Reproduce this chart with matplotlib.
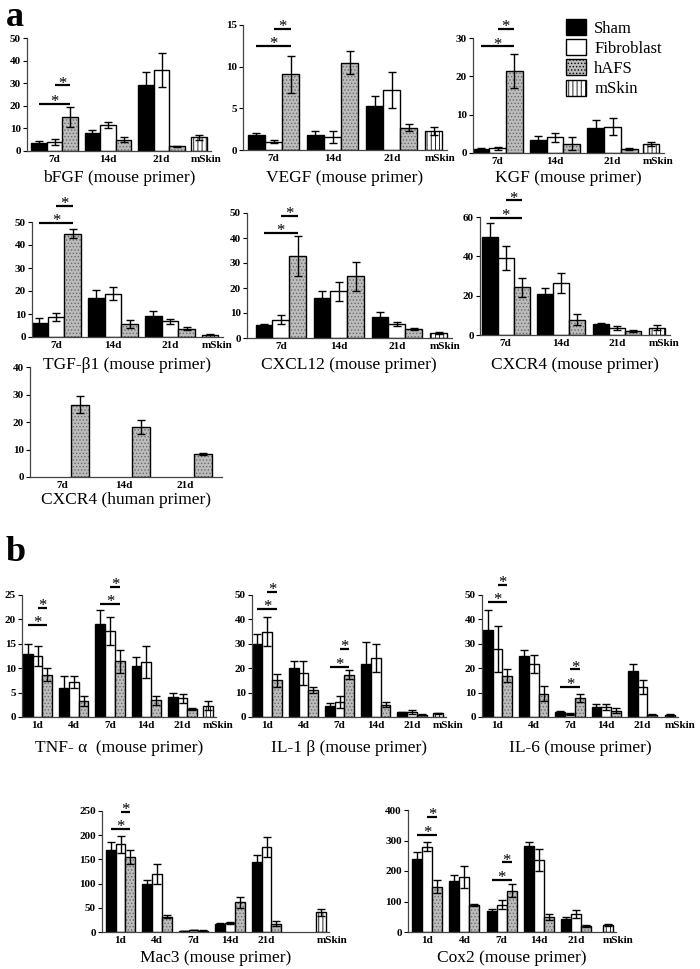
import matplotlib
matplotlib.use('Agg')
import matplotlib.pyplot as plt
import matplotlib.patches as mpatches
import numpy as np

plt.rcParams['font.family'] = ['Liberation Serif', 'DejaVu Serif']
plt.rcParams['hatch.linewidth'] = 0.6

days_a = ['7d', '14d', '21d']
days_b = ['1d', '4d', '7d', '14d', '21d']

# ---- panel a, mouse primer: Sham / Fibroblast / hAFS per day, then mSkin
bfgf_sham, bfgf_sham_e = [3.5, 8.0, 29.0], [1.0, 1.3, 6.0]
bfgf_fib, bfgf_fib_e = [4.0, 11.5, 36.0], [1.2, 1.5, 7.5]
bfgf_hafs, bfgf_hafs_e = [15.0, 5.0, 2.0], [4.5, 1.0, 0.3]
bfgf_mskin, bfgf_mskin_e = 6.0, 1.0

vegf_sham, vegf_sham_e = [1.8, 1.8, 5.3], [0.3, 0.5, 1.2]
vegf_fib, vegf_fib_e = [1.0, 1.6, 7.2], [0.15, 0.7, 2.1]
vegf_hafs, vegf_hafs_e = [9.1, 10.5, 2.7], [2.2, 1.4, 0.4]
vegf_mskin, vegf_mskin_e = 2.3, 0.5

kgf_sham, kgf_sham_e = [1.0, 3.5, 6.6], [0.2, 1.0, 2.1]
kgf_fib, kgf_fib_e = [1.2, 4.1, 6.9], [0.3, 1.1, 2.2]
kgf_hafs, kgf_hafs_e = [21.4, 2.4, 1.0], [4.4, 1.7, 0.2]
kgf_mskin, kgf_mskin_e = 2.3, 0.5

tgf_sham, tgf_sham_e = [6.2, 16.8, 9.2], [2.0, 3.8, 2.0]
tgf_fib, tgf_fib_e = [8.8, 18.9, 6.9], [1.8, 2.9, 1.1]
tgf_hafs, tgf_hafs_e = [45.0, 5.6, 3.6], [1.9, 1.6, 0.7]
tgf_mskin, tgf_mskin_e = 1.0, 0.3

cxcl12_sham, cxcl12_sham_e = [5.1, 16.0, 8.5], [0.5, 3.0, 1.8]
cxcl12_fib, cxcl12_fib_e = [7.3, 18.7, 5.6], [1.8, 3.9, 0.8]
cxcl12_hafs, cxcl12_hafs_e = [32.7, 24.7, 3.6], [8.0, 5.8, 0.3]
cxcl12_mskin, cxcl12_mskin_e = 2.0, 0.3

cxcr4_sham, cxcr4_sham_e = [49.8, 20.8, 5.7], [7.0, 2.9, 0.4]
cxcr4_fib, cxcr4_fib_e = [39.2, 26.5, 3.4], [6.1, 4.9, 1.1]
cxcr4_hafs, cxcr4_hafs_e = [24.2, 7.8, 2.0], [4.9, 2.7, 0.4]
cxcr4_mskin, cxcr4_mskin_e = 3.7, 1.2

# CXCR4 human primer: hAFS only
cxcr4h_hafs, cxcr4h_hafs_e = [26.3, 18.2, 8.5], [3.0, 2.5, 0.4]

# ---- panel b
tnf_sham, tnf_sham_e = [12.9, 6.0, 19.0, 10.5, 4.0], [2.0, 2.5, 2.9, 1.8, 1.0]
tnf_fib, tnf_fib_e = [12.5, 7.2, 17.6, 11.3, 3.8], [2.1, 1.2, 2.8, 3.3, 0.9]
tnf_hafs, tnf_hafs_e = [8.7, 3.3, 11.4, 3.4, 1.6], [1.4, 1.0, 2.4, 1.0, 0.2]
tnf_mskin, tnf_mskin_e = 2.3, 0.9

il1b_sham, il1b_sham_e = [30.1, 19.9, 4.7, 21.9, 1.9], [4.1, 3.0, 1.2, 8.8, 0.3]
il1b_fib, il1b_fib_e = [34.9, 18.1, 6.2, 24.2, 2.0], [5.9, 4.8, 2.4, 5.7, 0.8]
il1b_hafs, il1b_hafs_e = [15.1, 11.0, 17.3, 5.1, 1.0], [2.6, 1.1, 1.8, 1.0, 0.2]
il1b_mskin, il1b_mskin_e = 1.6, 0.2

il6_sham, il6_sham_e = [35.8, 24.8, 1.9, 4.0, 18.8], [8.1, 2.5, 0.7, 1.2, 2.9]
il6_fib, il6_fib_e = [27.9, 21.8, 1.2, 4.0, 12.3], [9.5, 3.7, 0.3, 1.2, 2.7]
il6_hafs, il6_hafs_e = [17.0, 9.5, 7.9, 2.5, 1.0], [2.5, 3.1, 1.7, 1.0, 0.2]
il6_mskin, il6_mskin_e = 1.0, 0.4

mac3_sham, mac3_sham_e = [170, 99, 2, 17, 145], [15, 9, 0.5, 1.5, 15]
mac3_fib, mac3_fib_e = [181, 120, 4, 18.5, 176], [18, 21, 0.5, 2, 21]
mac3_hafs, mac3_hafs_e = [155, 32, 3, 61, 17], [15, 3, 0.5, 11, 5]
mac3_mskin, mac3_mskin_e = 41, 7

cox2_sham, cox2_sham_e = [240, 167, 70, 282, 41], [22, 20, 7, 12, 9]
cox2_fib, cox2_fib_e = [280, 180, 89, 236, 59], [14, 35, 15, 36, 13]
cox2_hafs, cox2_hafs_e = [149, 88, 135, 49, 18.5], [20, 4, 21, 10, 3]
cox2_mskin, cox2_mskin_e = 23, 3

W, H = 700, 969
fig = plt.figure(figsize=(W / 100, H / 100), dpi=100)

ek = dict(ecolor='black', elinewidth=1, capsize=3, capthick=1)
hafs_face = '#bcbcbc'
hafs_hatch = '#6a6a6a'


def panel(x0, c0, s, ytop, ybot, labels, sham, fib, hafs, mskin, ylim, yticks,
          title, title_y, brackets, w, mskin_x=None, right=None):
    n = len(labels)
    left = (x0 - c0) / s
    if right is None:
        right = mskin_x + w / 2 + 0.08
    ax = fig.add_axes([x0 / W, 1 - ybot / H, (right - left) * s / W, (ybot - ytop) / H])
    x = np.arange(n)
    if sham is not None:
        ax.bar(x - w, sham[0], w, yerr=sham[1], color='black', edgecolor='black', lw=1, error_kw=ek)
        ax.bar(x, fib[0], w, yerr=fib[1], color='white', edgecolor='black', lw=1, error_kw=ek)
    ax.bar(x + w, hafs[0], w, color=hafs_face, hatch='.....', edgecolor=hafs_hatch, lw=0)
    ax.bar(x + w, hafs[0], w, yerr=hafs[1], fill=False, edgecolor='black', lw=1, error_kw=ek)
    ticks = list(x)
    tlabels = list(labels)
    if mskin is not None:
        ax.bar(mskin_x, mskin[0], w, yerr=mskin[1], color='white', hatch='||||',
               edgecolor='black', lw=1, error_kw=ek)
        ticks.append(mskin_x - w / 2)
        tlabels.append('mSkin')
    ax.set_xlim(left, right)
    ax.set_ylim(*ylim)
    ax.set_yticks(yticks)
    ax.set_xticks(ticks)
    ax.set_xticklabels(tlabels, fontweight='bold', fontsize=8)
    if mskin is not None:
        ax.get_xticklabels()[-1].set_ha('left')
    ax.tick_params(axis='x', length=0, pad=3)
    ax.tick_params(axis='y', length=3, width=0.8, pad=1.5, labelsize=8)
    for t in ax.get_yticklabels():
        t.set_fontweight('bold')
    for sp in ['top', 'right']:
        ax.spines[sp].set_visible(False)
    for sp in ['left', 'bottom']:
        ax.spines[sp].set_linewidth(0.9)
        ax.spines[sp].set_color('#444444')
    for g, kind, yb in brackets:
        xa = g - w if kind == 'long' else g
        xb = g + w
        ax.plot([xa, xb], [yb, yb], color='black', lw=1.6, clip_on=False, solid_capstyle='butt')
        ax.annotate('*', xy=((xa + xb) / 2, yb), xytext=(0, -1.5), textcoords='offset points',
                    ha='center', va='baseline', fontsize=12, annotation_clip=False)
    fig.text((x0 + (right - left) * s / 2) / W, 1 - title_y / H, title,
             ha='center', va='center', fontsize=12.5)
    return ax


wa, wb = 0.29, 0.27

panel(27, 54.5, 53.5, 38, 151, days_a, (bfgf_sham, bfgf_sham_e), (bfgf_fib, bfgf_fib_e),
      (bfgf_hafs, bfgf_hafs_e), (bfgf_mskin, bfgf_mskin_e), (0, 50), range(0, 51, 10),
      'bFGF (mouse primer)', 178, [(0, 'long', 21), (0, 'short', 29)], wa, mskin_x=2.7)
panel(243, 273.5, 59.1, 25, 150, days_a, (vegf_sham, vegf_sham_e), (vegf_fib, vegf_fib_e),
      (vegf_hafs, vegf_hafs_e), (vegf_mskin, vegf_mskin_e), (0, 15), range(0, 16, 5),
      'VEGF (mouse primer)', 178, [(0, 'long', 12.5), (0, 'short', 14.5)], wa, mskin_x=2.71)
panel(473, 497.5, 57.5, 38, 153, days_a, (kgf_sham, kgf_sham_e), (kgf_fib, kgf_fib_e),
      (kgf_hafs, kgf_hafs_e), (kgf_mskin, kgf_mskin_e), (0, 30), range(0, 31, 10),
      'KGF (mouse primer)', 178, [(0, 'long', 27.8), (0, 'short', 32.4)], wa, mskin_x=2.67)

panel(32, 56, 57, 222, 337, days_a, (tgf_sham, tgf_sham_e), (tgf_fib, tgf_fib_e),
      (tgf_hafs, tgf_hafs_e), (tgf_mskin, tgf_mskin_e), (0, 50), range(0, 51, 10),
      'TGF-β1 (mouse primer)', 365, [(0, 'long', 49.6), (0, 'short', 56.9)], wa, mskin_x=2.7)
panel(247, 280.8, 58, 213, 338, days_a, (cxcl12_sham, cxcl12_sham_e), (cxcl12_fib, cxcl12_fib_e),
      (cxcl12_hafs, cxcl12_hafs_e), (cxcl12_mskin, cxcl12_mskin_e), (0, 50), range(0, 51, 10),
      'CXCL12 (mouse primer)', 365, [(0, 'long', 42), (0, 'short', 48.7)], wa, mskin_x=2.72)
panel(480, 505.7, 55.5, 217, 335, days_a, (cxcr4_sham, cxcr4_sham_e), (cxcr4_fib, cxcr4_fib_e),
      (cxcr4_hafs, cxcr4_hafs_e), (cxcr4_mskin, cxcr4_mskin_e), (0, 60), range(0, 61, 20),
      'CXCR4 (mouse primer)', 365, [(0, 'long', 59.5), (0, 'short', 68.4)], wa, mskin_x=2.73)

panel(30, 62, 61.5, 367, 477, days_a, None, None, (cxcr4h_hafs, cxcr4h_hafs_e), None,
      (0, 40), range(0, 41, 10), 'CXCR4 (human primer)', 500, [], wa, right=2.6)

panel(22, 37.5, 36.25, 595, 717, days_b, (tnf_sham, tnf_sham_e), (tnf_fib, tnf_fib_e),
      (tnf_hafs, tnf_hafs_e), (tnf_mskin, tnf_mskin_e), (0, 25), range(0, 26, 5),
      'TNF- α  (mouse primer)', 748,
      [(0, 'long', 18.8), (0, 'short', 22.4), (2, 'long', 23.2), (2, 'short', 26.7)], wb, mskin_x=4.7)
panel(252, 267.2, 36.2, 595, 717, days_b, (il1b_sham, il1b_sham_e), (il1b_fib, il1b_fib_e),
      (il1b_hafs, il1b_hafs_e), (il1b_mskin, il1b_mskin_e), (0, 50), range(0, 51, 10),
      'IL-1 β (mouse primer)', 748,
      [(0, 'long', 44.1), (0, 'short', 51.4), (2, 'long', 20.5), (2, 'short', 27.8)], wb, mskin_x=4.72)
panel(482, 497.5, 36.25, 595, 717, days_b, (il6_sham, il6_sham_e), (il6_fib, il6_fib_e),
      (il6_hafs, il6_hafs_e), (il6_mskin, il6_mskin_e), (0, 50), range(0, 51, 10),
      'IL-6 (mouse primer)', 748,
      [(0, 'long', 47), (0, 'short', 54.2), (2, 'long', 12.3), (2, 'short', 19.5)], wb, mskin_x=4.76)

panel(102, 120.5, 36.5, 811, 932, days_b, (mac3_sham, mac3_sham_e), (mac3_fib, mac3_fib_e),
      (mac3_hafs, mac3_hafs_e), (mac3_mskin, mac3_mskin_e), (0, 250), range(0, 251, 50),
      'Mac3 (mouse primer)', 958, [(0, 'long', 212), (0, 'short', 248)], wb, mskin_x=5.5)
panel(408, 427.2, 37.2, 810, 932, days_b, (cox2_sham, cox2_sham_e), (cox2_fib, cox2_fib_e),
      (cox2_hafs, cox2_hafs_e), (cox2_mskin, cox2_mskin_e), (0, 400), range(0, 401, 100),
      'Cox2 (mouse primer)', 958,
      [(0, 'long', 318), (0, 'short', 376), (2, 'long', 171), (2, 'short', 228)], wb, mskin_x=4.86)

# legend
handles = [mpatches.Patch(facecolor='black', edgecolor='black', label='Sham'),
           mpatches.Patch(facecolor='white', edgecolor='black', label='Fibroblast'),
           mpatches.Patch(facecolor=hafs_face, edgecolor='black', hatch='.....', label='hAFS'),
           mpatches.Patch(facecolor='white', edgecolor='black', hatch='||||', label='mSkin')]
fig.legend(handles=handles, loc='upper left', bbox_to_anchor=(566 / W, 1 - 19 / H),
           frameon=False, fontsize=12, handlelength=1.2, handleheight=1.1,
           labelspacing=0.15, handletextpad=0.5, borderpad=0, borderaxespad=0)

fig.text(6 / W, 1 - 26 / H, 'a', fontsize=26, fontweight='bold', va='baseline')
fig.text(6 / W, 1 - 561 / H, 'b', fontsize=26, fontweight='bold', va='baseline')

fig.savefig('out.png', dpi=100)
